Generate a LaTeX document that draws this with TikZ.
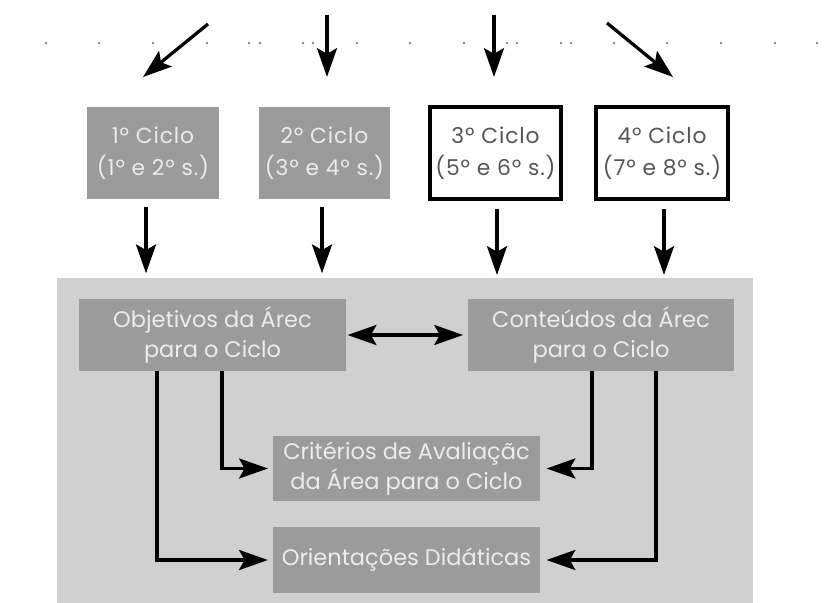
\documentclass[tikz,border=0pt]{standalone}
\usepackage{fontspec}
\setmainfont{Poppins}
\usepackage{xcolor}
\usetikzlibrary{arrows.meta}
\definecolor{boxgray}{RGB}{155,155,155}
\definecolor{panelgray}{RGB}{208,208,208}
\definecolor{lighttext}{RGB}{236,236,236}
\definecolor{darktext}{RGB}{85,85,85}
\definecolor{dotgray}{RGB}{130,130,130}

\begin{document}
\begin{tikzpicture}[x=0.025cm,y=-0.025cm,
    >={Stealth[length=0.72cm,width=0.5cm,inset=0.14cm]},
    link/.style={line width=2.3pt},
    cycgray/.style={fill=boxgray,text=lighttext,minimum width=3.28cm,minimum height=2.3cm,inner sep=0pt,align=center,font=\fontsize{15.5}{23}\selectfont\addfontfeature{LetterSpace=4}},
    cycwhite/.style={cycgray,fill=white,draw=black,line width=2.8pt,text=darktext},
    areabox/.style={fill=boxgray,text=lighttext,minimum width=6.67cm,inner sep=0pt,align=center,font=\fontsize{16}{21.5}\selectfont}]
    \useasboundingbox (0,0) rectangle (827,603);

    % Dotted row
    \foreach \x in {46,99,153,207,249,260,303,313,357,410,464,507,517,561,571,614,667,721,775,817}
        \fill[dotgray] (\x,43) circle (0.035cm);

    % Incoming arrows
    \foreach \i/\sx/\sy/\tx/\ty in {1/208/24/143/77, 2/327/15/327/77, 3/494/15/494/77, 4/607/23/673/77} {
        \coordinate (s\i) at (\sx,\sy);
        \coordinate (t\i) at (\tx,\ty);
        \draw[link,->] (s\i) -- (t\i);
    }

    % Cycles
    \foreach \i/\x/\st/\lo/\hi in {1/153/cycgray/1/2, 2/324.5/cycgray/3/4, 3/495.5/cycwhite/5/6, 4/662/cycwhite/7/8}
        \node[\st] (c\i) at (\x,153) {{\i}º Ciclo\\({\lo}º e {\hi}º s.)};

    % Area panel
    \fill[panelgray] (57,278) rectangle (753,603);
    \foreach \i/\dx in {1/-7, 2/-2.5, 3/1.5, 4/2}
        \draw[link,->] ([shift={(\dx,8)}]c\i.south) -- ++(0,66);

    \node[areabox,minimum height=1.8cm] (obj) at (212.5,335) {Objetivos da Árec\\para o Ciclo};
    \node[areabox,minimum height=1.8cm] (cont) at (601,335) {Conteúdos da Árec\\para o Ciclo};
    \node[areabox,minimum height=1.625cm] (crit) at (406.5,468.5) {Critérios de Avaliaçãc\\da Área para o Ciclo};
    \node[areabox,minimum height=1.65cm] (orient) at (406.5,560) {Orientações Didáticas};

    \draw[link,<->,shorten <=1pt,shorten >=3pt] (obj) -- (cont);
    \draw[link,->,shorten >=3.5pt] ([shift={(9.5,0)}]obj.south) |- (crit);
    \draw[link,->,shorten >=3.5pt] ([shift={(-55.5,0)}]obj.south) |- (orient);
    \draw[link,->,shorten >=4.5pt] ([shift={(-9,0)}]cont.south) |- (crit);
    \draw[link,->,shorten >=4.5pt] ([shift={(55,0)}]cont.south) |- (orient);
\end{tikzpicture}
\end{document}
